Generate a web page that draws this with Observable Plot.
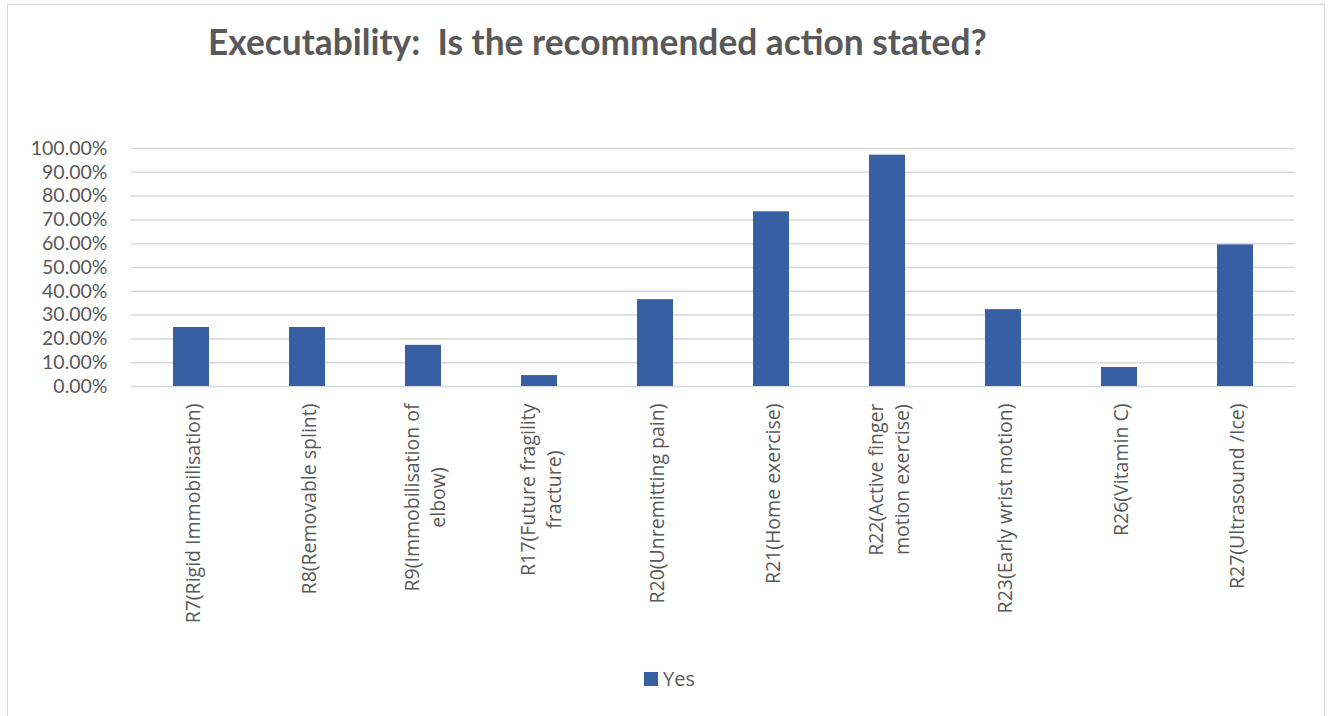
<!DOCTYPE html>
<html><head><meta charset="utf-8">
<script src="https://cdn.jsdelivr.net/npm/d3@7"></script>
<script src="https://cdn.jsdelivr.net/npm/@observablehq/plot@0.6"></script>
<style>
body{margin:0;background:#fff;font-family:"Open Sans",sans-serif;}
#wrap{position:relative;width:1331px;height:716px;overflow:hidden;}
#frame{position:absolute;left:7px;top:4px;width:1318px;height:730px;border:1.5px solid #d9d9d9;box-sizing:border-box}
#title{position:absolute;left:208px;top:21px;font-family:Lato,sans-serif;font-size:35.3px;font-weight:bold;color:#595959;white-space:pre;line-height:1.2}
#legend{position:absolute;left:644px;top:665px;display:flex;align-items:center;font-size:20px;color:#595959}
#legend .sw{width:14px;height:14px;background:#365FA4;margin-right:5px}
#chart svg{position:absolute;left:0;top:0}
</style></head>
<body>
<div id="wrap">
  <div id="frame"></div>
  <div id="chart"></div>
  <div id="title">Executability:  Is the recommended action stated?</div>
  <div id="legend"><div class="sw"></div><span>Yes</span></div>
</div>
<script>
const categories = ["R7","R8","R9","R17","R20","R21","R22","R23","R26","R27"];
const tickLabels = [
  "R7(Rigid Immobilisation)",
  "R8(Removable splint)",
  "R9(Immobilisation of\nelbow)",
  "R17(Future fragility\nfracture)",
  "R20(Unremitting pain)",
  "R21(Home exercise)",
  "R22(Active finger\nmotion exercise)",
  "R23(Early wrist motion)",
  "R26(Vitamin C)",
  "R27(Ultrasound /Ice)"
];
const yesValues = [0.248, 0.248, 0.173, 0.046, 0.365, 0.734, 0.972, 0.323, 0.080, 0.595];
const yTicks = [0, 0.1, 0.2, 0.3, 0.4, 0.5, 0.6, 0.7, 0.8, 0.9, 1.0];

const data = categories.map((c, i) => ({cat: c, value: yesValues[i]}));

// measure label lines so wrapped lines are centred on each other and the block starts just below the axis
const labelFont = 19.5;
const ctx = document.createElement("canvas").getContext("2d");
ctx.font = `${labelFont}px 'Open Sans'`;
const blockLen = tickLabels.map(t => Math.max(...t.split("\n").map(s => ctx.measureText(s).width)));
const labelGap = 17;

const labelMarks = categories.map((c, i) =>
  Plot.text([c], {
    x: d => d,
    frameAnchor: "bottom",
    text: () => tickLabels[i],
    rotate: -90,
    textAnchor: "middle",
    lineAnchor: "middle",
    lineHeight: 1.35,
    fontSize: labelFont,
    fill: "#595959",
    dy: labelGap + blockLen[i] / 2
  })
);

const chart = Plot.plot({
  width: 1331,
  height: 716,
  marginLeft: 131,
  marginRight: 36,
  marginTop: 148,
  marginBottom: 330,
  x: {domain: categories, paddingInner: 0.69, paddingOuter: 0.345, label: null, axis: null},
  y: {domain: [0, 1], label: null},
  style: {fontFamily: "'Open Sans', sans-serif", color: "#595959", background: "transparent"},
  marks: [
    Plot.ruleY(yTicks, {stroke: "#d9d9d9", strokeWidth: 1.5}),
    Plot.barY(data, {x: "cat", y: "value", fill: "#365FA4"}),
    Plot.axisY({ticks: yTicks, tickFormat: d3.format(".2%"), tickSize: 0, tickPadding: 24, fontSize: 19.5, fontFamily: "Lato, sans-serif", label: null, fill: "#595959"}),
    ...labelMarks
  ]
});
document.getElementById("chart").appendChild(chart);
</script>
</body></html>
